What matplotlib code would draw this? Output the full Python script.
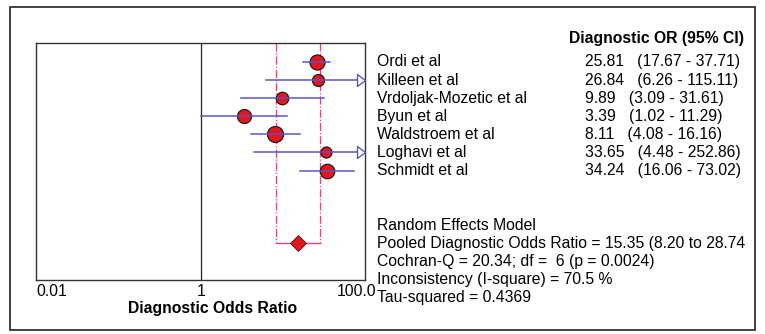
import numpy as np
from matplotlib import pyplot as plt
from matplotlib.path import Path
from matplotlib.patches import Rectangle
from matplotlib.transforms import blended_transform_factory

studies = [
    "Ordi et al",
    "Killeen et al",
    "Vrdoljak-Mozetic et al",
    "Byun et al",
    "Waldstroem et al",
    "Loghavi et al",
    "Schmidt et al",
]
dor = [25.81, 26.84, 9.89, 3.39, 8.11, 33.65, 34.24]
ci_low = [17.67, 6.26, 3.09, 1.02, 4.08, 4.48, 16.06]
ci_high = [37.71, 115.11, 31.61, 11.29, 16.16, 252.86, 73.02]
weights = [15.0, 12.0, 12.5, 14.0, 16.0, 11.0, 14.5]  # relative weight, drives marker size

pooled = 15.35
pooled_low = 8.20
pooled_high = 28.74
summary_lines = [
    "Random Effects Model",
    "Pooled Diagnostic Odds Ratio = 15.35 (8.20 to 28.74",
    "Cochran-Q = 20.34; df =  6 (p = 0.0024)",
    "Inconsistency (I-square) = 70.5 %",
    "Tau-squared = 0.4369",
]

W, H = 765, 334
FONT = "Liberation Sans"
BLUE = "#5a55c4"
RED = "#e8141c"
PINK = "#e0457a"

# open arrowhead whose tip sits on the data point
arrow = Path([(-1, -0.75), (0, 0), (-1, 0.75), (-1, -0.75)],
             [Path.MOVETO, Path.LINETO, Path.LINETO, Path.CLOSEPOLY])

fig = plt.figure(figsize=(W / 100, H / 100), dpi=100)
ax = fig.add_axes([36 / W, 1 - 280 / H, 329 / W, 237 / H])

xmin, xmax = 0.01, 100.0
ax.set_xscale("log")
ax.set_xlim(xmin, xmax)
ax.set_ylim(12.05, -1.05)
ax.set_xticks([])
ax.set_yticks([])
ax.minorticks_off()
for s in ax.spines.values():
    s.set_linewidth(1.0)
    s.set_color("#333333")

ax.axvline(1, color="#222222", lw=0.9, zorder=1)

rows = np.arange(len(studies))
pooled_row = 10

# pooled CI guides
for v in (pooled_low, pooled_high):
    ax.plot([v, v], [-1.05, pooled_row], color=PINK, lw=0.9, ls="-.", zorder=2)
ax.plot([pooled_low, pooled_high], [pooled_row, pooled_row], color=PINK, lw=1.0, zorder=2)

for r, est, lo, hi, w in zip(rows, dor, ci_low, ci_high, weights):
    ax.plot([est], [r], "o", ms=w / 1.39, mfc=RED, mec="#1a1a1a", mew=0.9, zorder=3)
    ax.plot([lo, min(hi, xmax)], [r, r], color=BLUE, lw=1.1, zorder=4)
    if hi > xmax:
        ax.plot([xmax], [r], marker=arrow, ms=11.5, mfc="white", mec=BLUE, mew=1.0,
                clip_on=False, zorder=5)

ax.plot([pooled], [pooled_row], "D", ms=8.5, mfc=RED, mec="#222222", mew=0.6, zorder=5)

# x tick labels
fs = 11.3
fig.text(36 / W, 1 - 291 / H, "0.01", ha="left", va="center", fontsize=fs, family=FONT)
fig.text(201 / W, 1 - 291 / H, "1", ha="center", va="center", fontsize=fs, family=FONT)
fig.text(376 / W, 1 - 291 / H, "100.0", ha="right", va="center", fontsize=fs, family=FONT)
fig.text(213 / W, 1 - 309 / H, "Diagnostic Odds Ratio", ha="center", va="center",
         fontsize=fs, fontweight="bold", family=FONT)

# right-hand table
tr = blended_transform_factory(fig.transFigure, ax.transData)
fig.text(569 / W, 1 - 38 / H, "Diagnostic OR (95% CI)", ha="left", va="center",
         fontsize=fs, fontweight="bold", family=FONT)
for r, name, est, lo, hi in zip(rows, studies, dor, ci_low, ci_high):
    fig.text(377 / W, r, name, transform=tr, ha="left", va="center", fontsize=fs, family=FONT)
    fig.text(585 / W, r, f"{est:.2f}   ({lo:.2f} - {hi:.2f})", transform=tr,
             ha="left", va="center", fontsize=fs, family=FONT)

for i, line in enumerate(summary_lines):
    fig.text(377 / W, 1 - (226 + i * 17.8) / H, line, ha="left", va="center",
             fontsize=fs, family=FONT)

# outer frame, with a white strip to its right as in the scan
fig.patches.append(Rectangle((755 / W, 0), 10 / W, 1, transform=fig.transFigure,
                             facecolor="white", edgecolor="none", zorder=9))
fig.patches.append(Rectangle((10 / W, 1 - 330 / H), 745 / W, 323 / H, transform=fig.transFigure,
                             fill=False, edgecolor="#222222", lw=1.2, zorder=10))

fig.savefig("out.png", dpi=100)
